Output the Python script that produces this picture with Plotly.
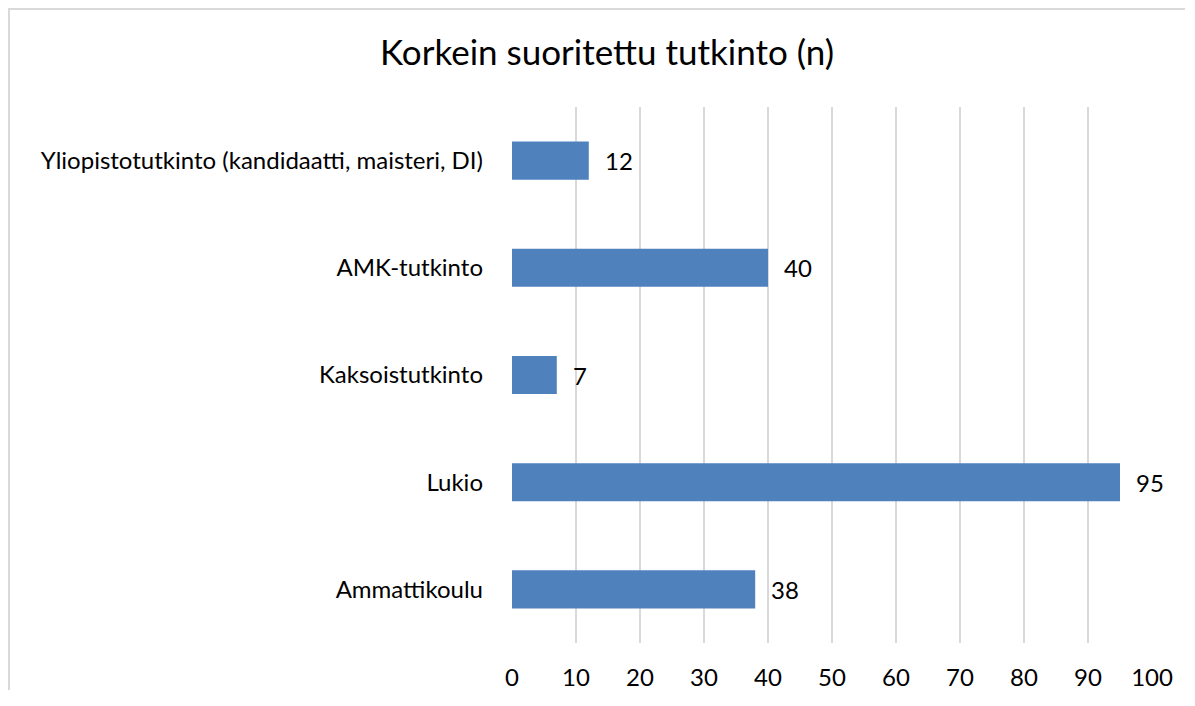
import plotly.graph_objects as go

categories = ["Ammattikoulu", "Lukio", "Kaksoistutkinto", "AMK-tutkinto",
              "Yliopistotutkinto (kandidaatti, maisteri, DI)"]
values = [38, 95, 7, 40, 12]
x_ticks = [0, 10, 20, 30, 40, 50, 60, 70, 80, 90, 100]
title_text = "Korkein suoritettu tutkinto (n)"

# page body has an 8px margin, so the figure starts at (8, 8)
OFF = 8
W, H = 1195 - 2 * OFF, 706 - 2 * OFF - 8
L, T = 512 - OFF, 107 - OFF
R = W - (1152 - OFF)
B = H - (643 - OFF)
FONT = "Lato, Carlito, Calibri, sans-serif"

fig = go.Figure()
fig.add_trace(go.Bar(
    y=categories, x=values, orientation="h",
    marker=dict(color="#4F81BD", line=dict(width=0)),
    hoverinfo="x+y",
))

for c, v in zip(categories, values):
    fig.add_annotation(x=v, y=c, text=str(v), showarrow=False,
                       xanchor="left", yanchor="middle", xshift=14,
                       font=dict(family=FONT, size=24, color="#000000"))

pw = W - L - R
ph = H - T - B
# chart border (top and left edges visible)
fig.add_shape(type="line", xref="paper", yref="paper",
              x0=-L / pw, x1=(W - 2 - L) / pw,
              y0=1 + (T - 1) / ph, y1=1 + (T - 1) / ph,
              line=dict(color="#D9D9D9", width=2))
fig.add_shape(type="line", xref="paper", yref="paper",
              x0=(1 - L) / pw, x1=(1 - L) / pw,
              y0=1 + T / ph, y1=-B / ph,
              line=dict(color="#D9D9D9", width=2))

fig.update_layout(
    width=W, height=H,
    margin=dict(l=L, r=R, t=T, b=B, autoexpand=False),
    paper_bgcolor="white", plot_bgcolor="white",
    bargap=0.645,
    showlegend=False,
    title=dict(text=title_text, x=((382 + 832) / 2 - OFF) / W, xanchor="center",
               y=1 - (53 - OFF) / H, yanchor="middle",
               font=dict(family=FONT, size=35, color="#000000")),
    font=dict(family=FONT, size=24, color="#000000"),
    xaxis=dict(range=[0, 100], tickvals=x_ticks, showgrid=True,
               gridcolor="#D9D9D9", gridwidth=2, zeroline=False,
               showline=False, ticks="", ticklabelstandoff=18,
               tickfont=dict(family=FONT, size=24, color="#000000"),
               fixedrange=True),
    yaxis=dict(categoryorder="array", categoryarray=categories,
               showgrid=False, zeroline=False, showline=False, ticks="",
               ticklabelstandoff=28,
               tickfont=dict(family=FONT, size=24, color="#000000"),
               fixedrange=True),
)

fig.write_html("out.html")
